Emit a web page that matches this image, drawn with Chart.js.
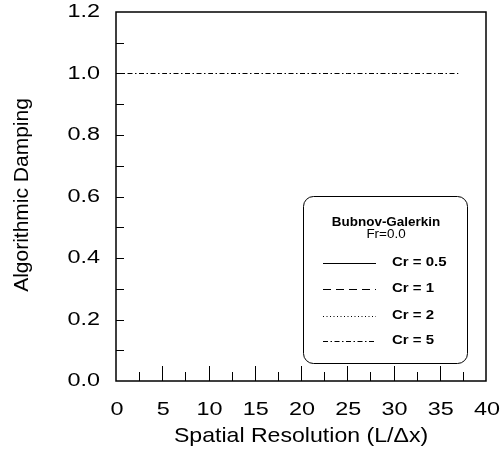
<!DOCTYPE html>
<html lang="en">
<head>
    <meta charset="utf-8" />
    <title>Algorithmic Damping</title>
    <script src="https://cdn.jsdelivr.net/npm/chart.js@4.4.0/dist/chart.umd.min.js"></script>
    <style>
        body { margin: 0; background: #fff; }
        #wrap { width: 500px; height: 454px; }
    </style>
</head>
<body>
    <div id="wrap"><canvas id="dampChart"></canvas></div>

    <script>
        // Bubnov-Galerkin, Fr = 0.0
        var resolution = [0, 5, 10, 15, 20, 25, 30, 35, 37];
        var dampingCr5 = [1.0, 1.0, 1.0, 1.0, 1.0, 1.0, 1.0, 1.0, 1.0];
        var courantLabels = ["Cr = 0.5", "Cr = 1", "Cr = 2", "Cr = 5"];
        var lineDashes = [[], [8, 5], [1, 2.5], [5, 2.5, 1.5, 2.5]];
        var legendTitle = ["Bubnov-Galerkin", "Fr=0.0"];
        var xTitle = "Spatial Resolution (L/\u0394x)";
        var yTitle = "Algorithmic Damping";

        var fontFamily = "'Liberation Sans', Arial, sans-serif";

        function toPoints(xs, ys) {
            return xs.map(function (x, i) { return { x: x, y: ys[i] }; });
        }

        // text with a horizontal stretch, the labels here are set wide
        function wideText(ctx, str, x, y, align, sx) {
            ctx.save();
            ctx.translate(x, y);
            ctx.scale(sx, 1);
            ctx.textAlign = align;
            ctx.fillText(str, 0, 0);
            ctx.restore();
        }

        // only the Cr = 5 curve carries points, the rest just show in the legend
        var datasets = courantLabels.map(function (lab, i) {
            return {
                label: lab,
                data: i === 3 ? toPoints(resolution, dampingCr5) : [],
                borderColor: '#000',
                borderWidth: 1,
                borderDash: lineDashes[i],
                pointRadius: 0,
                fill: false,
                tension: 0
            };
        });

        // frame, inward ticks, tick labels, titles and the boxed legend
        var framePlugin = {
            id: 'frame',
            afterDatasetsDraw: function (chart) {
                var ctx = chart.ctx;
                var a = chart.chartArea;
                var xs = chart.scales.x, ys = chart.scales.y;
                ctx.save();
                ctx.strokeStyle = '#000';
                ctx.fillStyle = '#000';
                ctx.lineWidth = 1;
                ctx.setLineDash([]);

                // x ticks every 2.5, longer at multiples of 5
                for (var v = 2.5; v < 40; v += 2.5) {
                    var px = Math.round(xs.getPixelForValue(v)) + 0.5;
                    var len = (v % 5 === 0) ? 15 : 9;
                    ctx.beginPath();
                    ctx.moveTo(px, a.bottom);
                    ctx.lineTo(px, a.bottom - len);
                    ctx.stroke();
                }
                // y ticks every 0.1
                for (var k = 1; k < 12; k++) {
                    var py = Math.round(ys.getPixelForValue(k / 10)) + 0.5;
                    ctx.beginPath();
                    ctx.moveTo(a.left, py);
                    ctx.lineTo(a.left + 8, py);
                    ctx.stroke();
                }

                // tick labels from the scales' own ticks
                ctx.font = '18px ' + fontFamily;
                ctx.textBaseline = 'middle';
                xs.ticks.forEach(function (t) {
                    wideText(ctx, String(t.value), xs.getPixelForValue(t.value) + 1, 410, 'center', 1.3);
                });
                ys.ticks.forEach(function (t) {
                    wideText(ctx, t.value.toFixed(1), 100, ys.getPixelForValue(t.value) + 0.5, 'right', 1.3);
                });

                // axis titles
                ctx.font = '21px ' + fontFamily;
                ctx.textBaseline = 'alphabetic';
                wideText(ctx, xTitle, 301, 442, 'center', 1.1);
                ctx.save();
                ctx.translate(28, 195);
                ctx.rotate(-Math.PI / 2);
                ctx.textAlign = 'center';
                ctx.fillText(yTitle, 0, 0);
                ctx.restore();

                // legend box
                var bx = 303, by = 196, bw = 164, bh = 167, r = 10;
                ctx.fillStyle = '#fff';
                ctx.beginPath();
                ctx.roundRect(bx + 0.5, by + 0.5, bw, bh, r);
                ctx.fill();
                ctx.stroke();

                ctx.fillStyle = '#000';
                ctx.textBaseline = 'middle';
                ctx.font = 'bold 12px ' + fontFamily;
                wideText(ctx, legendTitle[0], 386, 223, 'center', 1.12);
                ctx.font = '12px ' + fontFamily;
                wideText(ctx, legendTitle[1], 386, 235, 'center', 1.12);

                var rows = [263, 289, 316, 341];
                ctx.font = 'bold 12px ' + fontFamily;
                chart.data.datasets.forEach(function (ds, i) {
                    var y = rows[i] + 0.5;
                    ctx.setLineDash(ds.borderDash);
                    ctx.lineWidth = 1;
                    ctx.beginPath();
                    ctx.moveTo(323, y);
                    ctx.lineTo(376, y);
                    ctx.stroke();
                    ctx.setLineDash([]);
                    wideText(ctx, ds.label, 392, rows[i], 'left', 1.25);
                });

                // plot frame
                ctx.lineWidth = 1.5;
                ctx.strokeRect(a.left, a.top, a.right - a.left, a.bottom - a.top);
                ctx.restore();
            }
        };

        var canvas = document.getElementById('dampChart').getContext('2d');

        var dampChart = new Chart(canvas, {
            type: 'line',
            data: { datasets: datasets },
            options: {
                responsive: true,
                maintainAspectRatio: false,
                animation: false,
                layout: { padding: { top: 12, right: 14, left: 0, bottom: 0 } },
                plugins: {
                    legend: { display: false },
                    tooltip: { enabled: false }
                },
                scales: {
                    x: {
                        type: 'linear',
                        min: 0,
                        max: 40,
                        grid: { display: false, drawTicks: false },
                        border: { display: false },
                        ticks: { stepSize: 5, display: false },
                        afterFit: function (s) { s.height = 73; }
                    },
                    y: {
                        min: 0,
                        max: 1.2,
                        grid: { display: false, drawTicks: false },
                        border: { display: false },
                        ticks: { stepSize: 0.2, display: false },
                        afterFit: function (s) { s.width = 116; }
                    }
                }
            },
            plugins: [framePlugin]
        });
    </script>
</body>
</html>
